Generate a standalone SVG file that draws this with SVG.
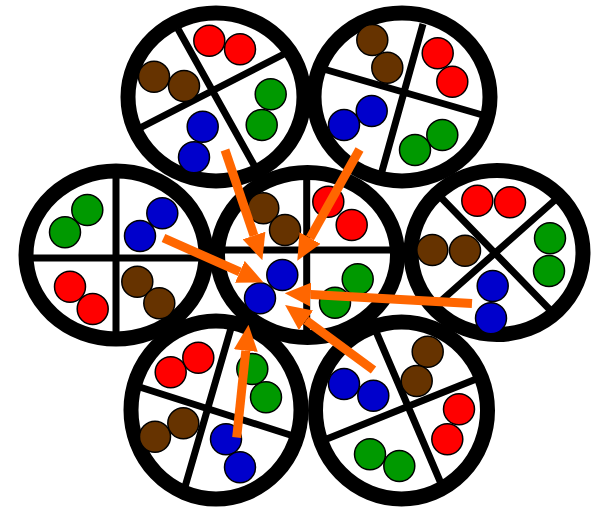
<svg xmlns="http://www.w3.org/2000/svg" width="591" height="508" viewBox="0 0 591 508">
<defs>
<style>
.ring{fill:none;stroke:#000;stroke-width:15}
.div{stroke:#000;stroke-width:7;fill:none}
.b{stroke:#000;stroke-width:1.5}
.r{fill:#FF0000}.g{fill:#009900}.u{fill:#0000CC}.n{fill:#663300}
.arr{stroke:#FF6600;stroke-width:9;fill:none;marker-end:url(#ah)}
</style>
<marker id="ah" markerUnits="userSpaceOnUse" markerWidth="26" markerHeight="24" refX="0" refY="12" orient="auto">
<path d="M0,0 L26,12 L0,24 z" fill="#FF6600"/>
</marker>
</defs>
<rect width="591" height="508" fill="#fff"/>
<g id="c1">
<ellipse class="ring" cx="216" cy="97" rx="88" ry="84"/>
<path class="div" d="M178,29 L259,174 M136,130 L286,53"/>
<circle class="b r" cx="209.3" cy="40.7" r="15.5"/><circle class="b r" cx="240" cy="49.3" r="15.5"/>
<circle class="b n" cx="154" cy="76.7" r="15.5"/><circle class="b n" cx="184" cy="86" r="15.5"/>
<circle class="b g" cx="270.7" cy="94.3" r="15.5"/><circle class="b g" cx="261.7" cy="125" r="15.5"/>
<circle class="b u" cx="202.7" cy="126.7" r="15.5"/><circle class="b u" cx="194" cy="157.3" r="15.5"/>
</g>
<g id="c2">
<ellipse class="ring" cx="402" cy="97" rx="88" ry="84"/>
<path class="div" d="M423,24 L379,182 M320,68 L486,116"/>
<circle class="b n" cx="372.3" cy="40" r="15.5"/><circle class="b n" cx="387.3" cy="67.7" r="15.5"/>
<circle class="b r" cx="437.7" cy="53.3" r="15.5"/><circle class="b r" cx="452.3" cy="81.7" r="15.5"/>
<circle class="b u" cx="371.7" cy="111" r="15.5"/><circle class="b u" cx="344" cy="125" r="15.5"/>
<circle class="b g" cx="442.3" cy="135" r="15.5"/><circle class="b g" cx="415" cy="150" r="15.5"/>
</g>
<g id="c3">
<ellipse class="ring" cx="116" cy="255" rx="90" ry="84"/>
<path class="div" d="M116,168 L116,342 M24,258 L208,258"/>
<circle class="b g" cx="87.3" cy="210" r="15.5"/><circle class="b g" cx="65" cy="232.3" r="15.5"/>
<circle class="b u" cx="162.3" cy="213.3" r="15.5"/><circle class="b u" cx="140" cy="236" r="15.5"/>
<circle class="b r" cx="70" cy="286.7" r="15.5"/><circle class="b r" cx="92.7" cy="309" r="15.5"/>
<circle class="b n" cx="137.3" cy="281.7" r="15.5"/><circle class="b n" cx="159.3" cy="303.3" r="15.5"/>
</g>
<g id="c4">
<ellipse class="ring" cx="307.5" cy="255" rx="90" ry="82.5"/>
<path class="div" d="M306.7,168 L306.7,342 M213,250 L402,250"/>
<circle class="b n" cx="263.3" cy="208.3" r="15.5"/><circle class="b n" cx="285" cy="230" r="15.5"/>
<circle class="b r" cx="328.3" cy="201.7" r="15.5"/><circle class="b r" cx="351.7" cy="225" r="15.5"/>
<circle class="b g" cx="357.7" cy="279.3" r="15.5"/><circle class="b g" cx="335" cy="302.7" r="15.5"/>
<circle class="b u" cx="282.3" cy="275" r="15.5"/><circle class="b u" cx="260" cy="298.3" r="15.5"/>
</g>
<g id="c5">
<ellipse class="ring" cx="497" cy="252.5" rx="86" ry="82"/>
<path class="div" d="M441,197.5 L555,315 M559,196.5 L434,307"/>
<circle class="b r" cx="477.3" cy="200.7" r="15.5"/><circle class="b r" cx="510" cy="202.3" r="15.5"/>
<circle class="b n" cx="432.3" cy="250" r="15.5"/><circle class="b n" cx="465" cy="250.7" r="15.5"/>
<circle class="b g" cx="550" cy="238.3" r="15.5"/><circle class="b g" cx="549" cy="271" r="15.5"/>
<circle class="b u" cx="492.7" cy="286" r="15.5"/><circle class="b u" cx="491" cy="318.3" r="15.5"/>
</g>
<g id="c6">
<ellipse class="ring" cx="216" cy="410" rx="85" ry="89"/>
<path class="div" d="M231.5,326.5 L183.5,492 M138,386.5 L295,436.5"/>
<circle class="b r" cx="170.7" cy="372.3" r="15.5"/><circle class="b r" cx="198.3" cy="357.7" r="15.5"/>
<circle class="b g" cx="252.3" cy="369" r="15.5"/><circle class="b g" cx="266" cy="397.3" r="15.5"/>
<circle class="b n" cx="155" cy="436.7" r="15.5"/><circle class="b n" cx="183.3" cy="423.3" r="15.5"/>
<circle class="b u" cx="226" cy="439.3" r="15.5"/><circle class="b u" cx="240" cy="467.3" r="15.5"/>
</g>
<g id="c7">
<ellipse class="ring" cx="401.5" cy="410.5" rx="86" ry="88.5"/>
<path class="div" d="M374.5,328 L442.5,487 M323,440.5 L475,379.5"/>
<circle class="b n" cx="427.7" cy="351.7" r="15.5"/><circle class="b n" cx="416.7" cy="381" r="15.5"/>
<circle class="b u" cx="344" cy="384" r="15.5"/><circle class="b u" cx="373.3" cy="395.7" r="15.5"/>
<circle class="b r" cx="459" cy="409.3" r="15.5"/><circle class="b r" cx="447.3" cy="439.3" r="15.5"/>
<circle class="b g" cx="370" cy="454.3" r="15.5"/><circle class="b g" cx="399.3" cy="466" r="15.5"/>
</g>
<g id="connectors">
<line class="arr" x1="225" y1="150" x2="254" y2="235.6"/>
<line class="arr" x1="359.5" y1="149.5" x2="310" y2="238"/>
<line class="arr" x1="163.5" y1="238" x2="239.8" y2="271.9"/>
<line class="arr" x1="472" y1="303.5" x2="310.7" y2="294.6"/>
<line class="arr" x1="373.5" y1="370" x2="306" y2="320.3"/>
<line class="arr" x1="236.7" y1="437.5" x2="245.8" y2="350.6"/>
</g>
</svg>
